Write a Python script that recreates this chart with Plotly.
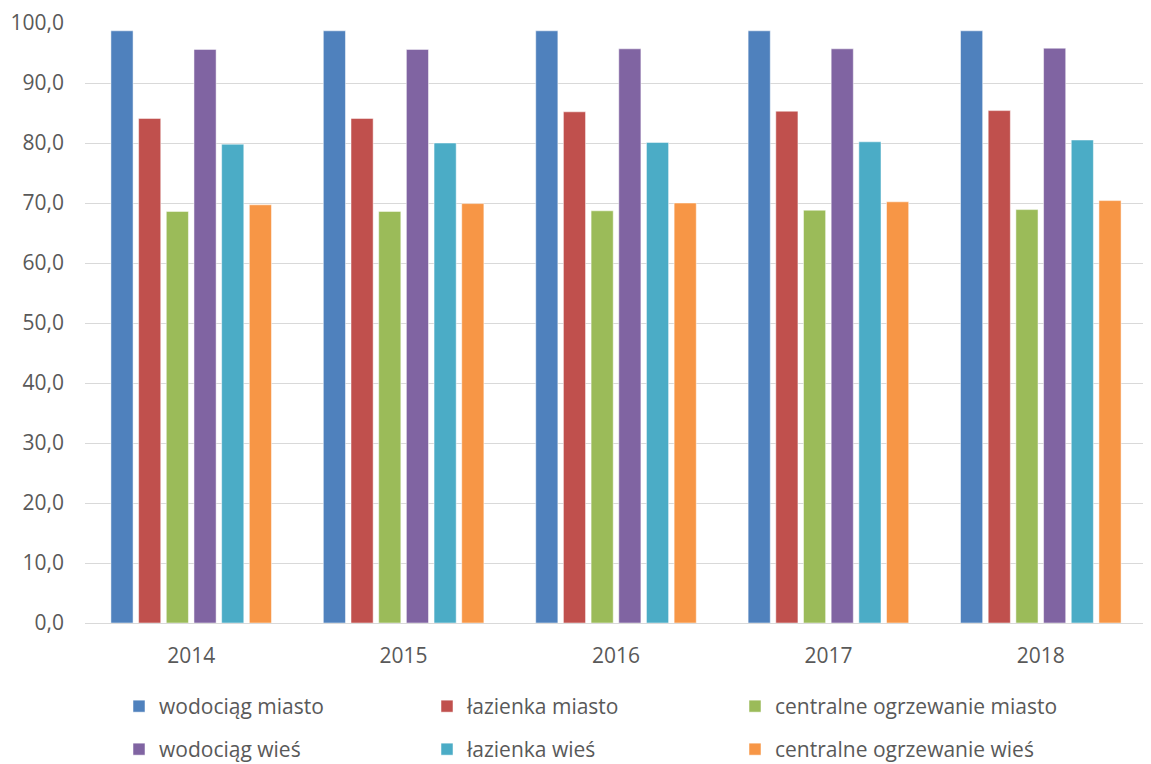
import plotly.graph_objects as go

years = ["2014", "2015", "2016", "2017", "2018"]
series_names = ["wodociąg miasto", "łazienka miasto", "centralne ogrzewanie miasto",
                "wodociąg wieś", "łazienka wieś", "centralne ogrzewanie wieś"]
wodociag_miasto = [98.7, 98.7, 98.7, 98.7, 98.7]
lazienka_miasto = [84.1, 84.1, 85.2, 85.3, 85.4]
co_miasto = [68.6, 68.6, 68.7, 68.8, 68.9]
wodociag_wies = [95.6, 95.6, 95.7, 95.7, 95.8]
lazienka_wies = [79.8, 80.0, 80.1, 80.2, 80.5]
co_wies = [69.7, 69.9, 70.0, 70.2, 70.4]
colors = ["#4F81BD", "#C0504D", "#9BBB59", "#8064A2", "#4BACC6", "#F79646"]
y_ticks = [0, 10, 20, 30, 40, 50, 60, 70, 80, 90, 100]

values = [wodociag_miasto, lazienka_miasto, co_miasto, wodociag_wies, lazienka_wies, co_wies]

W, H = 1143, 756  # page body has an 8px margin

fig = go.Figure()
for i, (name, vals, col) in enumerate(zip(series_names, values, colors)):
    fig.add_trace(go.Bar(
        x=years, y=vals, name=name,
        marker=dict(color=col, line=dict(color="white", width=0.5)),
        legend="legend" if i < 3 else "legend2",
        legendwidth=320 if i % 3 == 2 else 263,
    ))

font = dict(family="Open Sans, sans-serif", size=21, color="#595959")

legend_common = dict(orientation="h", xref="container", yref="container",
                     x=111 / W, xanchor="left", yanchor="top",
                     entrywidth=263, entrywidthmode="pixels", font=font,
                     bgcolor="rgba(0,0,0,0)", borderwidth=0)

fig.update_layout(
    width=W, height=H,
    margin=dict(l=77, r=4, t=15, b=141),
    plot_bgcolor="white", paper_bgcolor="white",
    separators=", ",
    barmode="group", bargap=0.218, bargroupgap=0.2,
    font=font,
    xaxis=dict(type="category", showgrid=False, showline=True, linecolor="#d9d9d9",
               linewidth=1, ticks="", tickfont=font, automargin=False,
               ticklabelstandoff=14),
    yaxis=dict(range=[0, 100], tickvals=y_ticks, tickformat=".1f", showgrid=True,
               gridcolor="#d9d9d9", gridwidth=1, zeroline=False, showline=False,
               ticks="", tickfont=font, automargin=False, ticklabelstandoff=20),
    legend=dict(legend_common, y=1 - 678 / H),
    legend2=dict(legend_common, y=1 - 721 / H),
)

fig.write_html("out.html")
